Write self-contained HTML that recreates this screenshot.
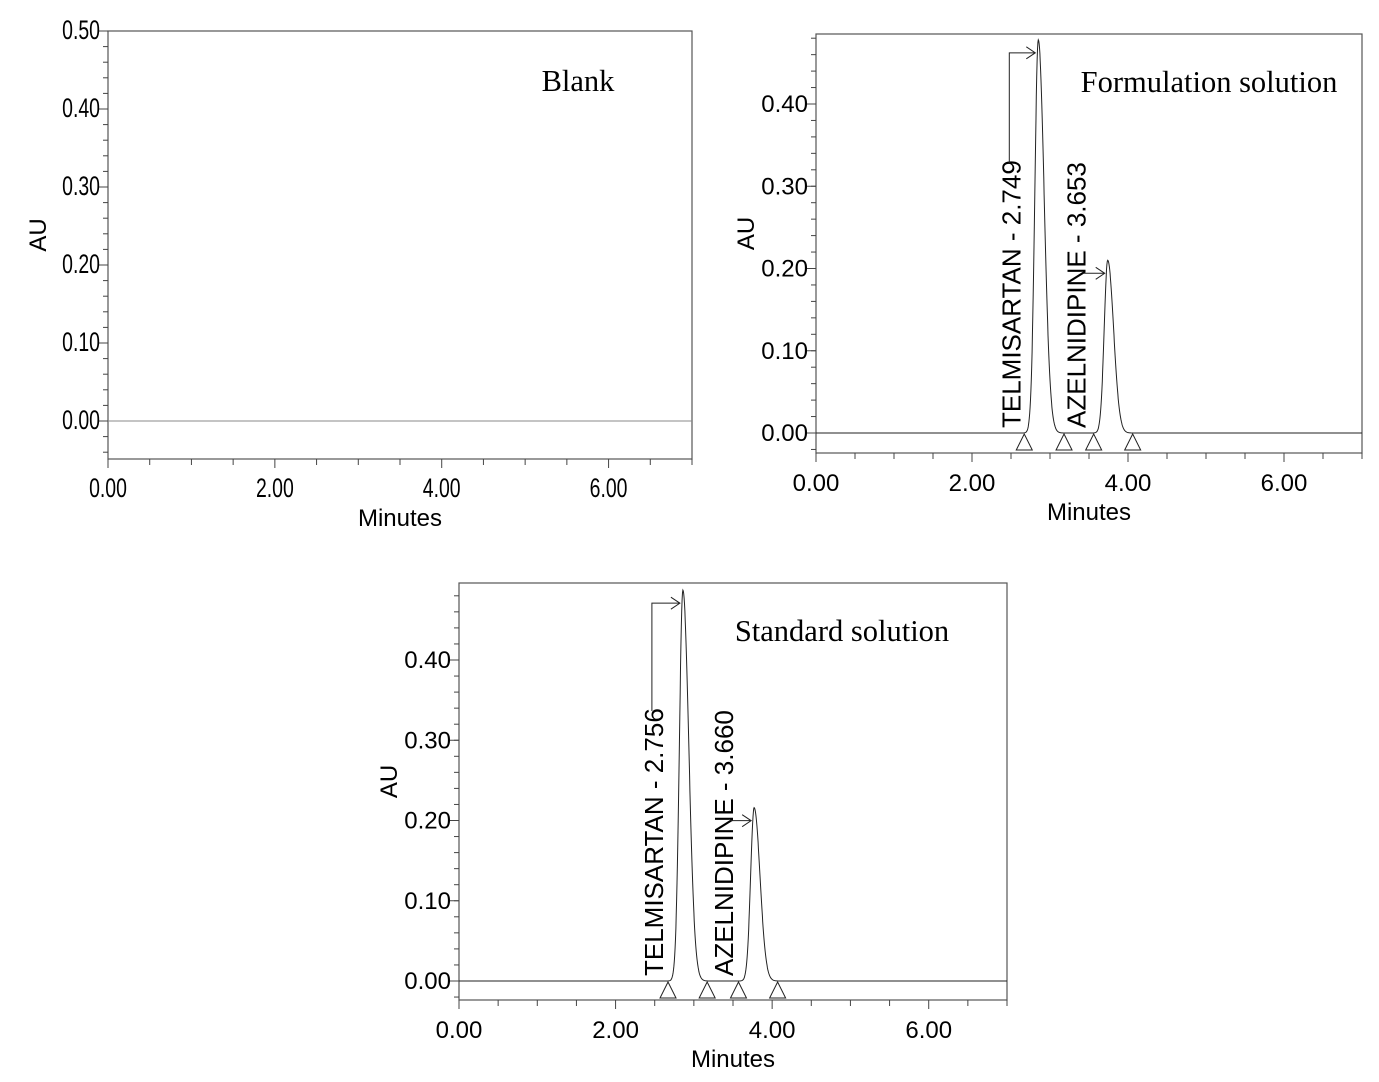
<!DOCTYPE html>
<html><head><meta charset="utf-8"><style>
body{margin:0;background:#fff}
svg{display:block}
text{fill:#000}
</style></head><body>
<svg id="c" width="1379" height="1082" xmlns="http://www.w3.org/2000/svg"></svg>
<script>
const xTicks=[0,2,4,6];
const xTickLabels=["0.00","2.00","4.00","6.00"];
const blankYTicks=[0,0.1,0.2,0.3,0.4,0.5];
const blankYLabels=["0.00","0.10","0.20","0.30","0.40","0.50"];
const yTicks=[0,0.1,0.2,0.3,0.4];
const yLabels=["0.00","0.10","0.20","0.30","0.40"];
const formPeakNames=["TELMISARTAN - 2.749","AZELNIDIPINE - 3.653"];
const formPeakTimes=[2.85,3.74];
const formPeakHeights=[0.478,0.21];
const formMarkers=[2.67,3.18,3.56,4.06];
const stdPeakNames=["TELMISARTAN - 2.756","AZELNIDIPINE - 3.660"];
const stdPeakTimes=[2.86,3.77];
const stdPeakHeights=[0.487,0.216];
const stdMarkers=[2.67,3.17,3.57,4.07];

const NS="http://www.w3.org/2000/svg";
const svg=document.getElementById('c');
function el(tag,attrs,parent,txt){const e=document.createElementNS(NS,tag);for(const k in attrs)e.setAttribute(k,attrs[k]);if(txt!==undefined)e.textContent=txt;(parent||svg).appendChild(e);return e;}

function panel(cfg){
  const g=el('g',{});
  
  
  const X=t=>cfg.x0+(t-0)*(cfg.x1-cfg.x0)/7;
  const Y=v=>cfg.yz-v*cfg.ppu;
  const fr=el('rect',{x:cfg.x0,y:cfg.top,width:cfg.x1-cfg.x0,height:cfg.bot-cfg.top,fill:'none',stroke:'#555','stroke-width':1.2},g);
  
  for(let v=-0.04;v<=cfg.ymax+1e-9;v+=0.02){const y=Y(v);if(y<cfg.top-1||y>cfg.bot)continue;
    el('line',{x1:cfg.x0-5,x2:cfg.x0,y1:y,y2:y,stroke:'#444'},g);}
  cfg.yt.forEach((v,i)=>{const y=Y(v);el('line',{x1:cfg.x0-9,x2:cfg.x0,y1:y,y2:y,stroke:'#444'},g);
    const t=el('text',{x:cfg.x0-8,y:y+8,'text-anchor':'end','font-family':'Liberation Sans, sans-serif','font-size':cfg.fs,transform:cfg.cond?`translate(${cfg.x0-8},0) scale(0.72,1) translate(${-(cfg.x0-8)},0)`:''},g,cfg.yl[i]);
    });
  for(let t=0;t<=7.001;t+=0.5){const x=X(t);el('line',{x1:x,x2:x,y1:cfg.bot,y2:cfg.bot+(t%2==0?9:6),stroke:'#444'},g);}
  xTicks.forEach((t,i)=>{const x=X(t);
    const tx=el('text',{x:x,y:cfg.bot+38,'text-anchor':'middle','font-family':'Liberation Sans, sans-serif','font-size':cfg.fs,transform:cfg.cond?`translate(${x},0) scale(0.72,1) translate(${-x},0)`:''},g,xTickLabels[i]);
    });
  const xt=el('text',{x:(cfg.x0+cfg.x1)/2,y:cfg.bot+67,'text-anchor':'middle','font-family':'Liberation Sans, sans-serif','font-size':24},g,'Minutes');
  
  const yx=cfg.x0-62,yy=(cfg.top+cfg.bot)/2-10;
  const yt=el('text',{x:yx,y:yy,'text-anchor':'middle','font-family':'Liberation Sans, sans-serif','font-size':24,transform:`rotate(-90 ${yx} ${yy})`},g,'AU');
  
  const ti=el('text',{x:cfg.tx,y:cfg.ty,'text-anchor':'middle','font-family':'Liberation Serif, serif','font-size':30.5},g,cfg.title);
  
  let d='';
  for(let t=0;t<=7;t+=0.005){let v=0;
    cfg.pt.forEach((t0,i)=>{const s=t<t0?0.045:0.075;v+=cfg.ph[i]*Math.exp(-((t-t0)**2)/(2*s*s));});
    d+=(d?'L':'M')+X(t).toFixed(1)+' '+Y(v).toFixed(2);}
  const tr=el('path',{d:d,fill:'none',stroke:cfg.pt.length?'#222':'#888','stroke-width':1},g);
  
  cfg.mk.forEach(t=>{const x=X(t),y=Y(0);
    const m=el('path',{d:`M${x} ${y+1}L${x-8} ${y+17}L${x+8} ${y+17}Z`,fill:'none',stroke:'#222'},g);
    });
  cfg.pt.forEach((t0,i)=>{
    const px=X(t0),py=Y(cfg.ph[i]);
    const lx=px-cfg.lo[i];
    const by=Y(0)-5;
    const lbl=el('text',{x:lx,y:by,'font-family':'Liberation Sans, sans-serif','font-size':26,transform:`rotate(-90 ${lx} ${by})`},g,cfg.pn[i]);
    
    const ay=py+13;
    const sx=lx-11;
    const top=by-265;
    const ar=el('path',{d:(i==0?`M${sx} ${top}L${sx} ${ay}`:`M${lx-3} ${ay}`)+`L${px-3} ${ay}M${px-12} ${ay-6}L${px-3} ${ay}L${px-12} ${ay+6}`,fill:'none',stroke:'#222'},g);
    
  });
}
panel({name:'blank-chart',x0:108,x1:692,top:31,bot:459,yz:421,ppu:780,ymax:0.5,yt:blankYTicks,yl:blankYLabels,fs:27,cond:true,title:'Blank',tx:578,ty:91,pt:[],ph:[],pn:[],mk:[]});
panel({name:'formulation-chart',x0:816,x1:1362,top:34,bot:453,yz:433,ppu:822.5,ymax:0.48,yt:yTicks,yl:yLabels,fs:24,cond:false,title:'Formulation solution',tx:1209,ty:92,pt:formPeakTimes,ph:formPeakHeights,pn:formPeakNames,mk:formMarkers,lo:[18,22]});
panel({name:'standard-chart',x0:459,x1:1007,top:583,bot:1000,yz:981,ppu:802.5,ymax:0.48,yt:yTicks,yl:yLabels,fs:24,cond:false,title:'Standard solution',tx:842,ty:641,pt:stdPeakTimes,ph:stdPeakHeights,pn:stdPeakNames,mk:stdMarkers,lo:[20,21]});
</script>
</body></html>
